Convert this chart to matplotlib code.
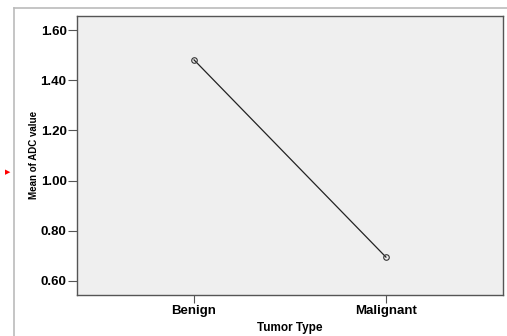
import matplotlib
matplotlib.use("Agg")
import matplotlib.pyplot as plt
from matplotlib.lines import Line2D

categories = ["Benign", "Malignant"]
means = [1.481, 0.695]
yticks = [0.60, 0.80, 1.00, 1.20, 1.40, 1.60]

plt.rcParams['font.family'] = ['Liberation Sans', 'DejaVu Sans']

fig = plt.figure(figsize=(5.07, 3.36), dpi=100)
W, H = 507, 336
ax = fig.add_axes([77 / W, 1 - 295 / H, (503 - 77) / W, (295 - 16) / H])
ax.set_facecolor('#efefef')
x = list(range(len(categories)))
ax.plot(x, means, color='#222222', lw=0.9, marker='o', ms=4,
        mfc='none', mec='#333333', mew=0.8)
ax.set_xlim(-0.61, 1.61)
ax.set_ylim(0.544, 1.656)
ax.set_yticks(yticks)
ax.set_yticklabels([f"{v:.2f}" for v in yticks], fontsize=9.5, fontweight='bold')
ax.set_xticks(x)
ax.set_xticklabels(categories, fontsize=9.5, fontweight='bold')
ax.tick_params(axis='y', length=6.5, width=0.8, color='#555555', pad=1)
ax.tick_params(axis='x', length=5.5, width=0.8, color='#555555', pad=2)
for s in ax.spines.values():
    s.set_color('#555555')
    s.set_linewidth(1.0)
ax.set_ylabel("Mean of ADC value", fontsize=7, fontweight='bold', labelpad=1)
ax.yaxis.set_label_coords(-(77 - 39) / 426, (295 - 155) / 279)
ax.set_xlabel("Tumor Type", fontsize=8.5, fontweight='bold', labelpad=3)

# outer frame lines
fig.add_artist(Line2D([14 / W, 14 / W], [0, 1 - 8 / H], color='#bbbbbb', lw=1.2, transform=fig.transFigure))
fig.add_artist(Line2D([14 / W, 1], [1 - 8 / H, 1 - 8 / H], color='#bbbbbb', lw=1.2, transform=fig.transFigure))
# red marker
fig.text(8 / W, 1 - 172 / H, "\u25B6", color='red', fontsize=5, ha='center', va='center', family='DejaVu Sans')

fig.savefig("out.png", dpi=100)
